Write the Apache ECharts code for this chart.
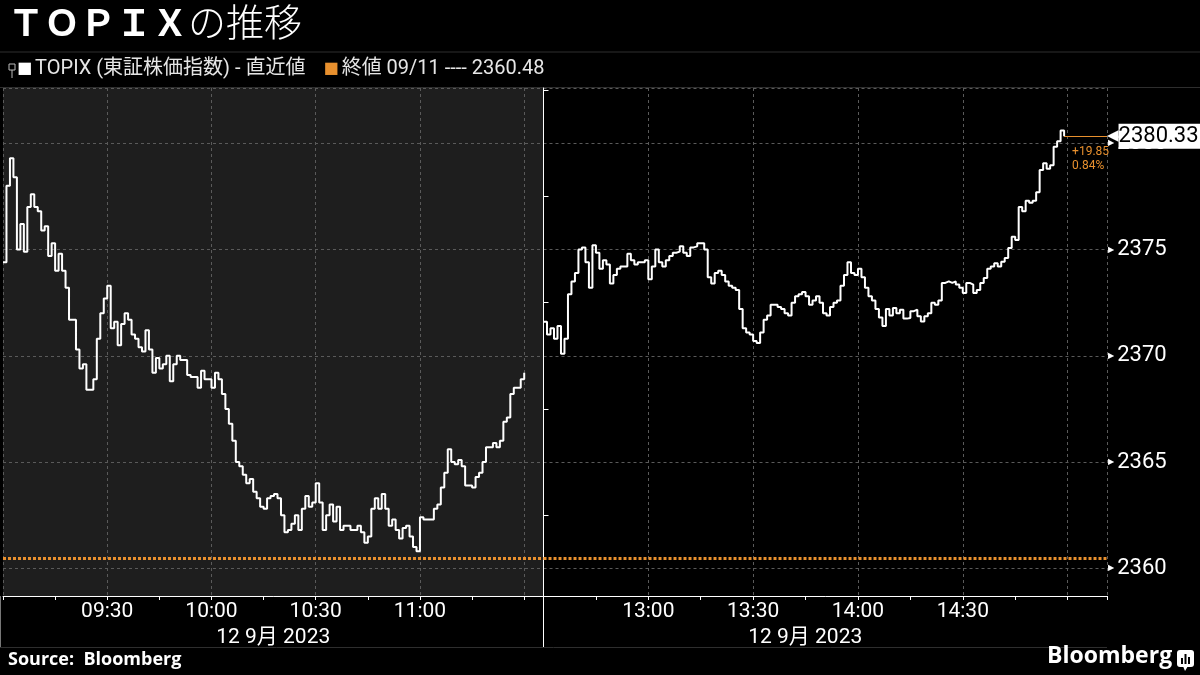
<!DOCTYPE html>
<html><head><meta charset="utf-8">
<script src="https://cdn.jsdelivr.net/npm/echarts@6/dist/echarts.min.js"></script>
<style>html,body{margin:0;padding:0;background:#000;}#c{width:1200px;height:675px;}</style>
</head><body><div id="c"></div>
<script>
// ---- data ----
const titleMain = 'ＴＯＰＩＸ';
const titleSub = 'の推移';
const seriesLabel = 'TOPIX (東証株価指数) - 直近値';
const prevCloseLabel = '終値 09/11 ---- 2360.48';
const prevClose = 2360.48;
const dateLabel = '12 9月 2023';
const morningStartMin = 9 * 60;      // 09:00
const afternoonStartMin = 12 * 60 + 30; // 12:30
const morningTickLabels = ['09:30', '10:00', '10:30', '11:00'];
const afternoonTickLabels = ['13:00', '13:30', '14:00', '14:30'];
// one value per minute from 09:00
const morningValues = [
2374.4,2378.0,2379.3,2378.4,2375.0,2376.2,2374.9,2377.0,2377.6,2377.0,
2376.8,2375.9,2376.1,2374.7,2375.3,2374.0,2374.8,2374.0,2373.2,2371.7,
2371.7,2370.3,2369.4,2369.6,2368.4,2368.4,2368.9,2370.8,2372.0,2372.7,
2373.3,2371.3,2371.6,2370.5,2371.5,2372.0,2371.7,2371.0,2370.8,2370.4,
2370.2,2371.2,2370.3,2369.2,2369.9,2369.4,2369.6,2370.0,2368.8,2369.6,
2370.0,2369.8,2369.8,2369.1,2369.0,2369.0,2368.5,2369.3,2368.9,2368.9,
2368.5,2369.2,2368.9,2368.2,2367.5,2366.8,2366.0,2365.0,2364.8,2364.4,
2364.0,2364.2,2363.6,2363.3,2362.9,2362.8,2363.3,2363.4,2363.5,2363.3,
2362.5,2361.7,2361.8,2362.1,2362.5,2361.8,2362.8,2363.4,2362.9,2363.1,
2364.0,2363.1,2361.8,2362.5,2363.0,2362.2,2362.9,2361.8,2362.0,2362.0,
2361.8,2361.8,2362.0,2361.7,2361.2,2361.5,2362.8,2363.3,2362.8,2363.5,
2362.8,2362.0,2362.3,2361.8,2361.4,2361.9,2362.0,2361.5,2361.0,2360.8,
2362.4,2362.3,2362.3,2362.3,2362.8,2363.0,2363.8,2364.5,2365.6,2365.0,
2364.9,2365.1,2364.8,2363.9,2363.9,2363.8,2364.3,2364.5,2365.0,2365.7,
2365.7,2365.9,2365.7,2366.0,2366.9,2367.1,2368.2,2368.5,2368.5,2368.9,
2369.2];
// one value per minute from 12:30
const afternoonValues = [
2371.6,2371.0,2371.3,2370.8,2371.4,2370.1,2370.8,2372.9,2373.5,2373.9,
2375.0,2375.1,2374.4,2373.2,2375.2,2374.85,2374.1,2374.5,2374.3,2373.4,
2373.8,2374.1,2374.2,2374.2,2374.8,2374.5,2374.3,2374.4,2374.4,2374.5,
2373.6,2374.2,2375.0,2374.4,2374.2,2374.5,2374.7,2374.85,2374.9,2375.15,
2374.85,2374.7,2375.1,2375.15,2375.3,2375.3,2375.0,2373.7,2373.4,2373.9,
2374.0,2373.8,2373.5,2373.3,2373.2,2373.1,2372.2,2371.3,2371.1,2371.0,
2370.7,2370.6,2371.1,2371.7,2371.9,2372.4,2372.4,2372.3,2372.2,2372.0,
2371.9,2372.5,2372.8,2372.9,2373.0,2372.8,2372.4,2372.6,2372.8,2372.5,
2372.0,2371.9,2372.3,2372.5,2372.6,2373.3,2373.8,2374.4,2373.9,2373.8,
2374.1,2373.7,2373.2,2372.8,2372.6,2372.2,2371.8,2371.4,2372.2,2371.9,
2372.25,2372.0,2372.17,2371.75,2371.78,2372.1,2372.17,2371.86,2371.62,2371.86,
2372.0,2372.5,2372.4,2372.6,2373.43,2373.5,2373.43,2373.5,2373.35,2373.2,
2372.96,2373.43,2373.35,2372.96,2373.1,2373.43,2373.66,2374.1,2374.2,2374.35,
2374.2,2374.43,2374.6,2375.07,2375.6,2375.45,2377.0,2376.8,2377.3,2377.2,
2377.3,2377.7,2378.74,2379.06,2378.8,2378.97,2379.84,2380.1,2380.6,2380.33];

// ---- layout / style ----
const GRID_TOP = 88, GRID_BOTTOM_Y = 596, SPLIT_X = 543.5, AXIS_X = 1107;
const PX_PER_MIN = 3.494;
const MORNING_MAX = SPLIT_X / PX_PER_MIN;
const AFTERNOON_MAX = (AXIS_X - SPLIT_X) / PX_PER_MIN;
const Y_MIN = 2358.70, Y_MAX = 2382.60;
const ORANGE = '#e8902e';
const GRID_COLOR = '#5a5a5a';
const NUM_FONT = 'Roboto, "Noto Sans CJK JP", sans-serif';

function hhmm(total) {
  const h = Math.floor(total / 60), m = Math.round(total % 60);
  return (h < 10 ? '0' : '') + h + ':' + (m < 10 ? '0' : '') + m;
}

const morningData = morningValues.map((v, i) => [i, v]);
const afternoonData = afternoonValues.map((v, i) => [i, v]);
const lastIdx = afternoonValues.length - 1;
const lastVal = afternoonValues[lastIdx];
const change = lastVal - prevClose;
const pct = change / prevClose * 100;

function xAxisFor(gridIndex, max, start, labels, namePad) {
  return {
    gridIndex, type: 'value', min: 0, max, interval: 30,
    axisLine: {show: true, lineStyle: {color: '#ffffff', width: 1}},
    axisTick: {show: true, length: 4, lineStyle: {color: '#ffffff'}},
    minorTick: {show: true, splitNumber: 2, length: 4, lineStyle: {color: '#ffffff'}},
    splitLine: {show: true, lineStyle: {color: GRID_COLOR, type: [3, 3], width: 1}},
    axisLabel: {
      show: true, color: '#ffffff', fontSize: 21, fontFamily: NUM_FONT, margin: 5,
      showMinLabel: true, showMaxLabel: false,
      formatter: v => { const t = hhmm(start + v); return labels.indexOf(t) >= 0 ? t : ''; }
    },
    name: dateLabel, nameLocation: 'middle', nameGap: 27,
    nameTextStyle: {color: '#ffffff', fontSize: 21, fontFamily: NUM_FONT, padding: namePad, verticalAlign: 'top'}
  };
}

const option = {
  backgroundColor: '#000000',
  animation: false,
  grid: [
    {left: 0, top: GRID_TOP, width: SPLIT_X, height: GRID_BOTTOM_Y - GRID_TOP, show: true, backgroundColor: '#1e1e1e', borderWidth: 0},
    {left: SPLIT_X, top: GRID_TOP, width: AXIS_X - SPLIT_X, height: GRID_BOTTOM_Y - GRID_TOP, show: false}
  ],
  xAxis: [
    xAxisFor(0, MORNING_MAX, morningStartMin, morningTickLabels, [0, 0, 0, 0]),
    xAxisFor(1, AFTERNOON_MAX, afternoonStartMin, afternoonTickLabels, [0, 40, 0, 0])
  ],
  yAxis: [
    {gridIndex: 0, type: 'value', min: Y_MIN, max: Y_MAX, splitNumber: 5,
     axisLine: {show: false}, axisTick: {show: false}, axisLabel: {show: false},
     splitLine: {show: true, lineStyle: {color: GRID_COLOR, type: [3, 3], width: 1}}},
    {gridIndex: 1, type: 'value', position: 'right', min: Y_MIN, max: Y_MAX, splitNumber: 5,
     axisLine: {show: true, lineStyle: {color: '#ffffff', width: 1}},
     axisTick: {show: false},
     minorTick: {show: true, splitNumber: 2, length: 5, lineStyle: {color: '#ffffff'}},
     splitLine: {show: true, lineStyle: {color: GRID_COLOR, type: [3, 3], width: 1}},
     axisLabel: {
       show: true, margin: 1, showMinLabel: false, showMaxLabel: false,
       formatter: v => '{t|▶}{v|' + v + '}',
       rich: {
         t: {fontSize: 8, color: '#ffffff', padding: [0, 3, 0, 0], fontFamily: '"DejaVu Sans"'},
         v: {fontSize: 22, color: '#ffffff', fontFamily: NUM_FONT}
       }
     }}
  ],
  series: [
    {
      type: 'line', xAxisIndex: 0, yAxisIndex: 0, data: morningData, step: 'end',
      showSymbol: false, symbol: 'none', lineStyle: {color: '#ffffff', width: 2}, z: 5,
      markLine: {
        symbol: 'none', silent: true, label: {show: false},
        lineStyle: {color: ORANGE, type: [3, 2], width: 3},
        data: [{yAxis: prevClose}]
      }
    },
    {
      type: 'line', xAxisIndex: 1, yAxisIndex: 1, data: afternoonData, step: 'end',
      showSymbol: false, symbol: 'none', lineStyle: {color: '#ffffff', width: 2}, z: 5,
      markLine: {
        symbol: 'none', silent: true,
        data: [
          {yAxis: prevClose, label: {show: false}, lineStyle: {color: ORANGE, type: [3, 2], width: 3}},
          [
            {coord: [lastIdx, lastVal], lineStyle: {color: ORANGE, type: 'solid', width: 1},
             label: {
               show: true, position: 'end', distance: 0,
               formatter: '{a|◀}{b|' + lastVal.toFixed(2) + '}',
               rich: {
                 a: {color: '#ffffff', fontSize: 15, fontFamily: '"DejaVu Sans"', padding: [0, 0, 0, 0]},
                 b: {color: '#000000', backgroundColor: '#ffffff', fontSize: 22, fontFamily: NUM_FONT,
                     padding: [2, 4, 1, 0], lineHeight: 23}
               }
             }},
            {coord: [AFTERNOON_MAX, lastVal]}
          ]
        ]
      },
      markPoint: {
        symbol: 'circle', symbolSize: 0, silent: true,
        data: [{coord: [lastIdx, lastVal],
          label: {
            show: true, position: 'insideTopLeft', offset: [3, 4],
            formatter: '+' + change.toFixed(2) + '\n' + pct.toFixed(2) + '%',
            color: ORANGE, fontSize: 12, lineHeight: 14, fontFamily: NUM_FONT, align: 'left', verticalAlign: 'top'
          }}]
      }
    }
  ],
  graphic: [
    {type: 'text', left: 8, top: 3, style: {
      text: '{m|' + titleMain + '}{s|' + titleSub + '}',
      rich: {
        m: {fontSize: 36, fontWeight: 'bold', fill: '#ffffff', fontFamily: '"Noto Sans CJK JP"'},
        s: {fontSize: 38, fontWeight: 300, fill: '#ffffff', fontFamily: '"Noto Sans CJK JP"'}
      }}},
    {type: 'line', shape: {x1: 0, y1: 52, x2: 1200, y2: 52}, style: {stroke: '#2e2e2e', lineWidth: 1}},
    {type: 'line', shape: {x1: 0, y1: 87.5, x2: 1200, y2: 87.5}, style: {stroke: '#2e2e2e', lineWidth: 1}},
    {type: 'rect', shape: {x: 9, y: 64, width: 6, height: 6}, style: {fill: 'none', stroke: '#bbbbbb', lineWidth: 1}},
    {type: 'line', shape: {x1: 12, y1: 70, x2: 12, y2: 78}, style: {stroke: '#bbbbbb', lineWidth: 1}},
    {type: 'text', left: 17, top: 59, style: {
      text: '{w|■}{t|' + seriesLabel + '}{gap| }{o|■}{t|' + prevCloseLabel + '}',
      rich: {
        w: {fontSize: 16, fill: '#ffffff', fontFamily: '"DejaVu Sans"', padding: [0, 3, 0, 0]},
        o: {fontSize: 16, fill: ORANGE, fontFamily: '"DejaVu Sans"', padding: [0, 3, 0, 0]},
        t: {fontSize: 20, fill: '#e6e6e6', fontFamily: NUM_FONT},
        gap: {fontSize: 20, width: 18}
      }}},
    {type: 'line', shape: {x1: 0.5, y1: GRID_BOTTOM_Y, x2: 0.5, y2: 647}, style: {stroke: '#777777', lineWidth: 1}},
    {type: 'line', shape: {x1: SPLIT_X, y1: GRID_BOTTOM_Y, x2: SPLIT_X, y2: 647}, style: {stroke: '#ffffff', lineWidth: 1}},
    {type: 'line', shape: {x1: 0, y1: 647.5, x2: AXIS_X, y2: 647.5}, style: {stroke: '#2e2e2e', lineWidth: 1}},
    {type: 'text', left: 8, top: 651, style: {text: 'Source:  Bloomberg', fontSize: 18, fontWeight: 'bold', fill: '#ffffff', fontFamily: '"Open Sans", Roboto, sans-serif'}},
    {type: 'text', left: 1047, top: 645, style: {text: 'Bloomberg', fontSize: 23, fontWeight: 'bold', fill: '#ffffff', fontFamily: '"Open Sans", Roboto, sans-serif'}},
    {type: 'rect', shape: {x: 1177, y: 650, width: 17, height: 17, r: 3}, style: {fill: '#ffffff'}},
    {type: 'polygon', shape: {points: [[1183, 666], [1188, 666], [1185, 671]]}, style: {fill: '#ffffff'}},
    {type: 'rect', shape: {x: 1181, y: 658, width: 2, height: 6}, style: {fill: '#000000'}},
    {type: 'rect', shape: {x: 1184.5, y: 654, width: 2, height: 10}, style: {fill: '#000000'}},
    {type: 'rect', shape: {x: 1188, y: 657, width: 2, height: 7}, style: {fill: '#000000'}}
  ]
};

const chart = echarts.init(document.getElementById('c'));
chart.setOption(option);
</script>
</body></html>
